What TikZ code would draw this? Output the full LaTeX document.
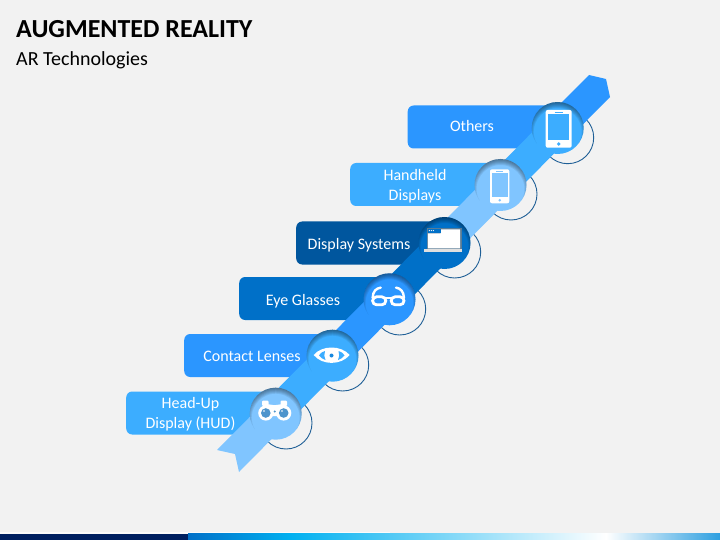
\documentclass[tikz,border=0pt]{standalone}
\usepackage{fontspec}
\setmainfont{Carlito}
\usetikzlibrary{calc}
\definecolor{PageGray}{HTML}{F2F2F2}
\definecolor{PaleBlue}{HTML}{80C5FF}
\definecolor{SkyBlue}{HTML}{3CADFF}
\definecolor{MidBlue}{HTML}{2B96FF}
\definecolor{DeepBlue}{HTML}{0070C8}
\definecolor{DarkBlue}{HTML}{00569E}
\definecolor{RingBlue}{HTML}{1F5F96}
\definecolor{BarNavy}{HTML}{002060}
\definecolor{BarCyan}{HTML}{00B0F0}
\definecolor{BarEnd}{HTML}{2D9FE0}
\definecolor{LensBlue}{HTML}{4D94CC}
\tikzset{
  cardbox/.style={anchor=west,minimum height=43pt,rounded corners=6pt,inner sep=0pt,fill=#1},
  cardtext/.style={text=white,font=\fontsize{16}{19.5}\selectfont,align=center,inner sep=0pt},
  ringnode/.style={circle,draw=RingBlue,line width=0.9pt,minimum size=52pt,inner sep=0pt},
  lensnode/.style={circle,fill=#1,minimum size=52pt,inner sep=0pt},
  icon/.style={fill=white,draw=none}
}
\newcommand{\lensat}[3]{
  \node[lensnode=#3] (#1) at (#2) {};
  \begin{scope}
    \clip (#2) circle (26pt);
    \foreach \w in {2,4,...,12}
      \draw[black,opacity=0.08,line width=\w pt] ($(#2)+(0,4)$) circle (30pt);
  \end{scope}
}
\begin{document}
\begin{tikzpicture}[x=1pt,y=-1pt]
  \useasboundingbox (0,0) rectangle (720,540);
  \fill[PageGray] (0,0) rectangle (720,540);

  % bottom bar
  \fill[white,opacity=0.7] (0,532.4) rectangle (390,533.5);
  \fill[BarNavy] (0,533.5) rectangle (188,540);
  \fill[left color=DeepBlue,right color=BarCyan] (188,533.5) rectangle (290,540);
  \fill[left color=BarCyan,right color=white] (290,533.5) rectangle (606,540);
  \fill[left color=white,right color=BarEnd] (606,533.5) rectangle (720,540);

  \node[anchor=west,inner sep=0pt,font=\fontsize{26}{30}\selectfont\bfseries] (title) at (16,29) {AUGMENTED REALITY};
  \node[anchor=west,inner sep=0pt,font=\fontsize{20}{24}\selectfont] (subtitle) at (16,60) {AR Technologies};

  % rings behind the band
  \node[ringnode] (ringhud) at (286,423) {};
  \node[ringnode] (ringlens) at (342.7,365) {};
  \node[ringnode] (ringglass) at (399.7,309) {};
  \node[ringnode] (ringdisp) at (454.7,252) {};
  \node[ringnode] (ringhand) at (511,194) {};
  \node[ringnode] (ringother) at (567.7,137.7) {};

  % cards
  \node[cardbox=SkyBlue,minimum width=150pt] (cardhud) at (126,413) {};
  \node[cardbox=MidBlue,minimum width=148pt] (cardlens) at (184,355.5) {};
  \node[cardbox=DeepBlue,minimum width=150pt] (cardglass) at (239,298.5) {};
  \node[cardbox=DarkBlue,minimum width=148pt] (carddisp) at (296,243) {};
  \node[cardbox=SkyBlue,minimum width=150pt] (cardhand) at (350,184.5) {};
  \node[cardbox=MidBlue,minimum width=150pt] (cardother) at (407.5,127) {};

  % band, cut under each lens
  \begin{scope}
    \clip (217,450)--(235,454)--(239,472)--(610,97)--(606,79)--(589,75)--cycle;
    \fill[PaleBlue] (176,374)--(236,374)--(316,454)--(260,510)--(176,510)--cycle;
    \fill[SkyBlue] (236,374)--(316,454)--(372,396)--(292,316)--cycle;
    \fill[MidBlue] (292,316)--(372,396)--(429,339)--(349,259)--cycle;
    \fill[DeepBlue] (349,259)--(429,339)--(484,283)--(404,203)--cycle;
    \fill[PaleBlue] (404,203)--(484,283)--(540,225)--(460,145)--cycle;
    \fill[SkyBlue] (460,145)--(540,225)--(598,168)--(518,88)--cycle;
    \fill[MidBlue] (518,88)--(598,168)--(660,106)--(580,26)--cycle;
  \end{scope}

  % lenses
  \lensat{lenshud}{275.7,413.7}{PaleBlue}
  \lensat{lenslens}{332.5,355.7}{SkyBlue}
  \lensat{lensglass}{389.5,299.3}{MidBlue}
  \lensat{lensdisp}{444.5,243}{DeepBlue}
  \lensat{lenshand}{500.5,185}{PaleBlue}
  \lensat{lensother}{557.7,128}{SkyBlue}

  % texts
  \node[cardtext] (texthud) at (190.5,414) {Head-Up\\Display (HUD)};
  \node[cardtext] (textlens) at (252,356.5) {Contact Lenses};
  \node[cardtext] (textglass) at (303,301) {Eye Glasses};
  \node[cardtext] (textdisp) at (359,245) {Display Systems};
  \node[cardtext] (texthand) at (415,186) {Handheld\\Displays};
  \node[cardtext] (textother) at (472,126.5) {Others};

  % phone, large
  \fill[icon,rounded corners=2pt] (545.7,110) rectangle (571.7,147.7);
  \fill[SkyBlue] (548.3,114.3) rectangle (569,140.3);
  \draw[SkyBlue,line width=0.6pt] (554.5,112.2)--(563,112.2);
  \fill[SkyBlue] (558.7,144) circle (1.8pt);

  % phone, small
  \fill[icon,rounded corners=2pt] (490,169.3) rectangle (509.3,203.3);
  \fill[PaleBlue] (491.7,173.3) rectangle (507.7,196.7);
  \draw[PaleBlue,line width=0.5pt] (496,171.3)--(503,171.3);
  \fill[PaleBlue] (499.7,200.3) circle (1.4pt);

  % laptop
  \fill[gray!70!DeepBlue] (426.7,227.7) rectangle (461.5,250);
  \fill[gray!25] (424.3,249.3) rectangle (462.3,251.7);
  \fill[white] (440.7,229.3)--(460,229.3)--(460,248.3)--(427.8,248.3)--(427.8,233.3)--(440.7,233.3)--cycle;
  \fill[DeepBlue] (427.8,229.3) rectangle (440.7,233.3);
  \foreach \d in {429.3,431.3,433.3}
    \fill[white] (\d,230.6) circle (0.6pt);

  % glasses
  \draw[white,line width=2.8pt,rounded corners=4pt] (372.6,296.8) rectangle (385.8,304.8);
  \draw[white,line width=2.8pt,rounded corners=4pt] (391.2,296.8) rectangle (404,304.8);
  \draw[white,line width=2.4pt] (385.8,298) -- (391.2,298);
  \draw[white,line width=2.4pt,line cap=round] (372.6,298) .. controls (373,291) and (376,288.5) .. (380.7,287.6);
  \draw[white,line width=2.4pt,line cap=round] (404,298) .. controls (403.6,291) and (400.5,288.5) .. (396,287.6);

  % eye
  \fill[white] (313.7,355) .. controls (322,345) and (341,345) .. (349.7,355) .. controls (341,365.5) and (322,365.5) .. (313.7,355)--cycle;
  \fill[SkyBlue] (319,355.5) .. controls (321,352.5) and (323,351.5) .. (325,351) .. controls (324,354) and (324,357.5) .. (325.5,360) .. controls (323,359) and (321,358) .. (319,355.5)--cycle;
  \fill[SkyBlue] (344.5,355.5) .. controls (342.5,352.5) and (340.5,351.5) .. (338.5,351) .. controls (339.5,354) and (339.5,357.5) .. (338,360) .. controls (340.5,359) and (342.5,358) .. (344.5,355.5)--cycle;
  \fill[DeepBlue!60!SkyBlue] (331.5,355.5) circle (2pt);

  % binoculars
  \fill[white,rounded corners=1pt] (262,400.7) rectangle (268.5,406);
  \fill[white,rounded corners=1pt] (280.5,400.7) rectangle (287,406);
  \fill[white] (266,404) -- (274.7,405.2) -- (283,404) -- (283,412) -- (279,416) -- (270,416) -- (266,412) -- cycle;
  \fill[white] (265.8,413) circle (7.6pt);
  \fill[white] (283.7,413) circle (7.6pt);
  \fill[LensBlue] (265.8,413) circle (4.8pt);
  \fill[LensBlue] (283.7,413) circle (4.8pt);
  \fill[white,opacity=0.7] (264,411) circle (1.1pt);
  \fill[white,opacity=0.7] (281.9,411) circle (1.1pt);
  \fill[LensBlue] (274.7,411.5) circle (1.1pt);
\end{tikzpicture}
\end{document}
